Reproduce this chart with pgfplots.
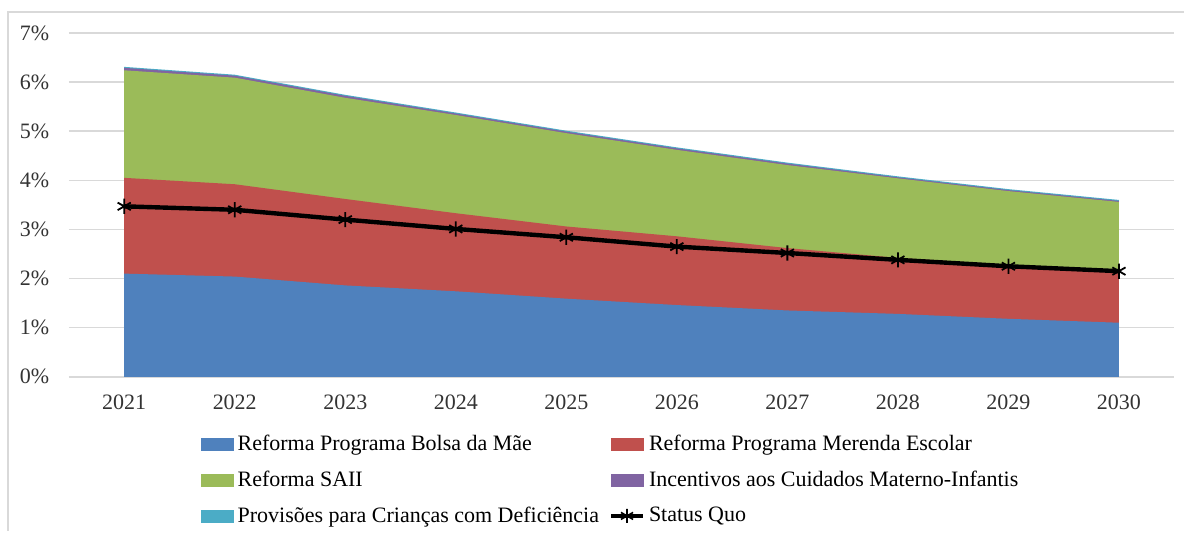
\documentclass[border=0pt]{standalone}
\usepackage{pgfplots}
\pgfplotsset{compat=1.18}
\usepackage{pgfplotstable}
\usepackage{fontspec}
\setmainfont{Liberation Serif}
\definecolor{cblue}{HTML}{4F81BD}
\definecolor{cred}{HTML}{C0504D}
\definecolor{cgreen}{HTML}{9BBB59}
\definecolor{cpurple}{HTML}{8064A2}
\definecolor{ccyan}{HTML}{4BACC6}
\definecolor{gridc}{HTML}{D9D9D9}
\pgfplotstableread{
x blue red green purple cyan sq
0 2.10 1.95 2.19 0.05 0.02 3.47
1 2.04 1.88 2.17 0.04 0.02 3.40
2 1.86 1.76 2.06 0.04 0.02 3.20
3 1.74 1.59 2.00 0.03 0.02 3.01
4 1.59 1.47 1.90 0.03 0.02 2.84
5 1.46 1.40 1.76 0.03 0.02 2.65
6 1.35 1.27 1.69 0.03 0.02 2.52
7 1.28 1.14 1.62 0.02 0.02 2.38
8 1.18 1.10 1.50 0.02 0.02 2.25
9 1.10 1.05 1.41 0.02 0.02 2.15
}\data
\begin{document}
\fontsize{11}{13}\selectfont
\begin{tikzpicture}
\begin{axis}[
  scale only axis,
  width=553pt, height=172pt,
  xmin=-0.5, xmax=9.5, ymin=0, ymax=7,
  xtick={0,...,9},
  xticklabels={2021,2022,2023,2024,2025,2026,2027,2028,2029,2030},
  extra x ticks={-0.5,0.5,...,9.5},
  extra x tick labels={},
  extra x tick style={major tick length=3pt, tick style={gridc, line width=0.8pt}, tick align=outside, grid=none},
  ytick={0,...,7},
  yticklabel={\pgfmathprintnumber{\tick}\%},
  /pgf/number format/assume math mode=true,
  ymajorgrids, grid style={gridc, line width=0.8pt},
  axis x line*=bottom, axis y line*=left,
  x axis line style={gridc, line width=0.8pt, -},
  y axis line style={draw=none},
  xtick style={draw=none}, ytick style={draw=none},
  yticklabel style={xshift=-6pt, font=\fontsize{11}{13}\selectfont, text=black!80},
  xticklabel style={yshift=-5pt, font=\fontsize{11}{13}\selectfont, text=black!80},
  legend columns=2,
  legend cell align=left,
  legend style={draw=none, at={(0.491,-0.145)}, anchor=north,
    font=\fontsize{11}{13}\selectfont, row sep=4.5pt,
    /tikz/every even column/.append style={column sep=3pt}},
]
\addlegendimage{legend image code/.code={\fill[cblue] (0pt,-3pt) rectangle (16pt,3pt);}}
\addlegendentry{Reforma Programa Bolsa da Mãe}
\addlegendimage{legend image code/.code={\fill[cred] (0pt,-3pt) rectangle (16pt,3pt);}}
\addlegendentry{Reforma Programa Merenda Escolar}
\addlegendimage{legend image code/.code={\fill[cgreen] (0pt,-3pt) rectangle (16pt,3pt);}}
\addlegendentry{Reforma SAII}
\addlegendimage{legend image code/.code={\fill[cpurple] (0pt,-3pt) rectangle (16pt,3pt);}}
\addlegendentry{Incentivos aos Cuidados Materno-Infantis}
\addlegendimage{legend image code/.code={\fill[ccyan] (0pt,-3pt) rectangle (16pt,3pt);}}
\addlegendentry{Provisões para Crianças com Deficiência}
\addlegendimage{legend image code/.code={\draw[black, line width=2pt] (0pt,0pt) -- (16pt,0pt); \draw[black, line width=0.8pt] plot[mark=asterisk, mark size=3.5pt] coordinates {(8pt,0pt)};}}
\addlegendentry{Status Quo}
% cumulative areas, drawn from the top layer down
\addplot[draw=none, fill=ccyan, forget plot] table[x=x, y expr=\thisrow{blue}+\thisrow{red}+\thisrow{green}+\thisrow{purple}+\thisrow{cyan}]{\data} \closedcycle;
\addplot[draw=none, fill=cpurple, forget plot] table[x=x, y expr=\thisrow{blue}+\thisrow{red}+\thisrow{green}+\thisrow{purple}]{\data} \closedcycle;
\addplot[draw=none, fill=cgreen, forget plot] table[x=x, y expr=\thisrow{blue}+\thisrow{red}+\thisrow{green}]{\data} \closedcycle;
\addplot[draw=none, fill=cred, forget plot] table[x=x, y expr=\thisrow{blue}+\thisrow{red}]{\data} \closedcycle;
\addplot[draw=none, fill=cblue, forget plot] table[x=x, y=blue]{\data} \closedcycle;
\addplot[black, line width=2.2pt, mark=asterisk, mark size=3.8pt, mark options={line width=0.9pt}, forget plot] table[x=x,y=sq]{\data};
\end{axis}
\draw[gridc, line width=0.8pt] (-30.5pt,-77pt) -- (-30.5pt,182.5pt) -- (558pt,182.5pt);
\path[use as bounding box] (-34.5pt,-77pt) rectangle (558pt,188.5pt);
\end{tikzpicture}
\end{document}
